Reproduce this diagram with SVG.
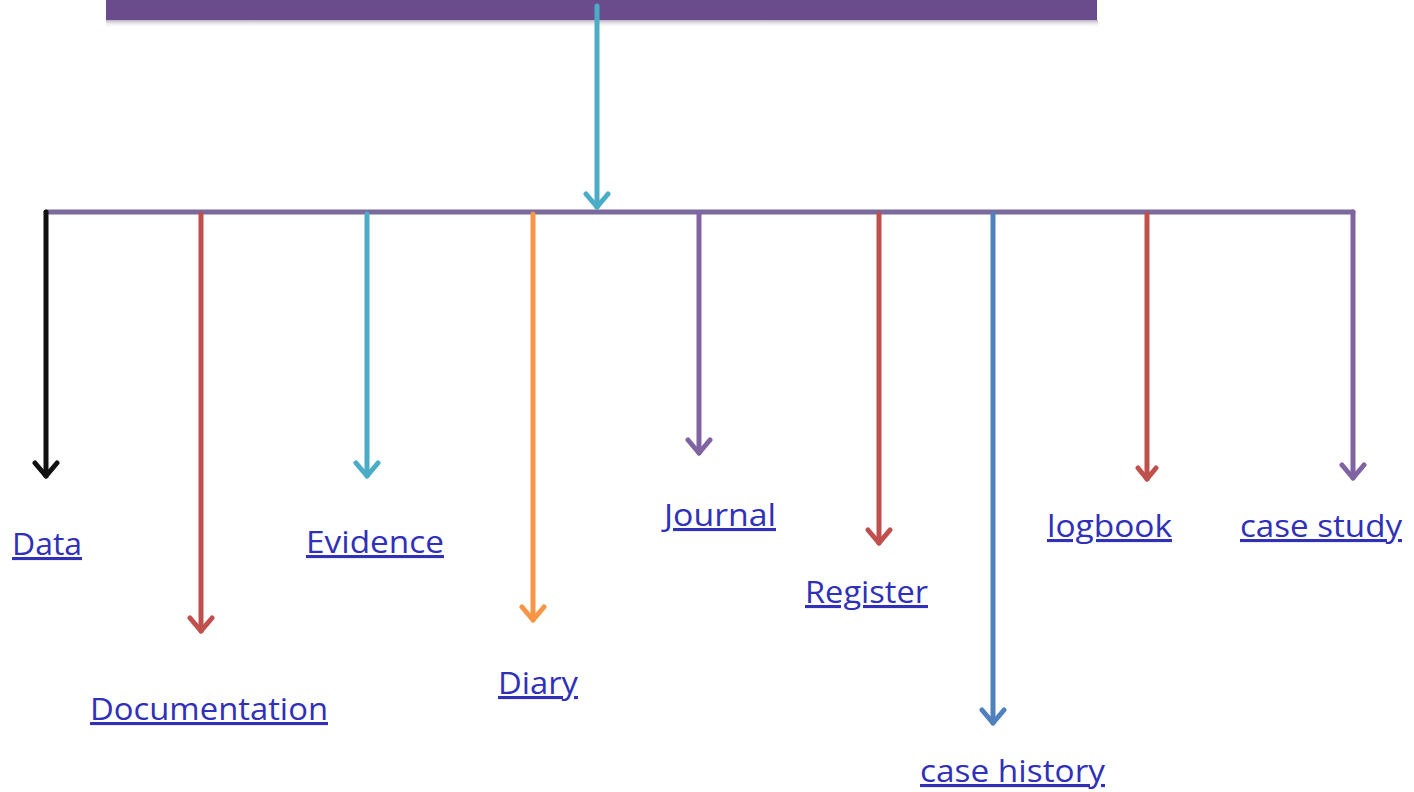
<svg xmlns="http://www.w3.org/2000/svg" width="1414" height="792" viewBox="0 0 1414 792">
<style>
.c{fill:none;stroke-width:5;stroke-linecap:round}
.lbl{font-family:"Open Sans","Liberation Sans",sans-serif;font-size:31px;fill:#3030b8;text-decoration:underline}
.ah{fill:none;stroke-width:5;stroke-linecap:round;stroke-linejoin:round}
</style>
<defs>
<linearGradient id="sh" x1="0" y1="0" x2="0" y2="1"><stop offset="0" stop-color="#9a90a8" stop-opacity="0.7"/><stop offset="1" stop-color="#ffffff" stop-opacity="0"/></linearGradient>
<marker id="mk" viewBox="-16 -15 19 30" markerWidth="19" markerHeight="30" refX="0" refY="0" orient="auto" markerUnits="userSpaceOnUse"><path class="ah" d="M-13,-11 L0,0 L-13,11" stroke="#111"/></marker>
<marker id="mr" viewBox="-16 -15 19 30" markerWidth="19" markerHeight="30" refX="0" refY="0" orient="auto" markerUnits="userSpaceOnUse"><path class="ah" d="M-13,-11 L0,0 L-13,11" stroke="#c0504d"/></marker>
<marker id="mt" viewBox="-16 -15 19 30" markerWidth="19" markerHeight="30" refX="0" refY="0" orient="auto" markerUnits="userSpaceOnUse"><path class="ah" d="M-13,-11 L0,0 L-13,11" stroke="#4bacc6"/></marker>
<marker id="mo" viewBox="-16 -15 19 30" markerWidth="19" markerHeight="30" refX="0" refY="0" orient="auto" markerUnits="userSpaceOnUse"><path class="ah" d="M-13,-11 L0,0 L-13,11" stroke="#f79646"/></marker>
<marker id="mp" viewBox="-16 -15 19 30" markerWidth="19" markerHeight="30" refX="0" refY="0" orient="auto" markerUnits="userSpaceOnUse"><path class="ah" d="M-13,-11 L0,0 L-13,11" stroke="#8064a2"/></marker>
<marker id="mb" viewBox="-16 -15 19 30" markerWidth="19" markerHeight="30" refX="0" refY="0" orient="auto" markerUnits="userSpaceOnUse"><path class="ah" d="M-13,-11 L0,0 L-13,11" stroke="#4f81bd"/></marker>
<marker id="mr2" viewBox="-16 -15 19 30" markerWidth="19" markerHeight="30" refX="0" refY="0" orient="auto" markerUnits="userSpaceOnUse"><path class="ah" d="M-11,-9 L0,0 L-11,9" stroke="#c0504d" stroke-width="4"/></marker>
</defs>
<rect width="1414" height="792" fill="#ffffff"/>
<g id="top-box">
<rect x="106" y="20" width="992" height="8" fill="url(#sh)"/>
<rect x="106" y="0" width="991" height="20" fill="#6a4c8c"/>
</g>
<g id="connectors">
<line class="c" x1="46" y1="212" x2="1353" y2="212" stroke="#7b6a9c"/>
<line class="c" x1="597" y1="6" x2="597" y2="207" stroke="#4bacc6" marker-end="url(#mt)"/>
<line class="c" x1="46" y1="212" x2="46" y2="476" stroke="#111" marker-end="url(#mk)"/>
<line class="c" x1="201" y1="214" x2="201" y2="631" stroke="#c0504d" marker-end="url(#mr)"/>
<line class="c" x1="367" y1="214" x2="367" y2="476" stroke="#4bacc6" marker-end="url(#mt)"/>
<line class="c" x1="533" y1="214" x2="533" y2="620" stroke="#f79646" marker-end="url(#mo)"/>
<line class="c" x1="699" y1="214" x2="699" y2="453" stroke="#8064a2" marker-end="url(#mp)"/>
<line class="c" x1="879" y1="214" x2="879" y2="543" stroke="#c0504d" marker-end="url(#mr)"/>
<line class="c" x1="993" y1="214" x2="993" y2="723" stroke="#4f81bd" marker-end="url(#mb)"/>
<line class="c" x1="1147" y1="214" x2="1147" y2="479" stroke="#c0504d" stroke-width="4" marker-end="url(#mr2)"/>
<line class="c" x1="1353" y1="212" x2="1353" y2="478" stroke="#8064a2" marker-end="url(#mp)"/>
</g>
<g id="n-data"><text class="lbl" x="12" y="555" textLength="70" lengthAdjust="spacingAndGlyphs">Data</text></g>
<g id="n-documentation"><text class="lbl" x="90" y="720" textLength="238" lengthAdjust="spacingAndGlyphs">Documentation</text></g>
<g id="n-evidence"><text class="lbl" x="306" y="553" textLength="138" lengthAdjust="spacingAndGlyphs">Evidence</text></g>
<g id="n-diary"><text class="lbl" x="498" y="694" textLength="80" lengthAdjust="spacingAndGlyphs">Diary</text></g>
<g id="n-journal"><text class="lbl" x="664" y="526" textLength="112" lengthAdjust="spacingAndGlyphs">Journal</text></g>
<g id="n-register"><text class="lbl" x="805" y="603" textLength="123" lengthAdjust="spacingAndGlyphs">Register</text></g>
<g id="n-case-history"><text class="lbl" x="920" y="782" textLength="185" lengthAdjust="spacingAndGlyphs">case history</text></g>
<g id="n-logbook"><text class="lbl" x="1047" y="537" textLength="125" lengthAdjust="spacingAndGlyphs">logbook</text></g>
<g id="n-case-study"><text class="lbl" x="1240" y="537" textLength="162" lengthAdjust="spacingAndGlyphs">case study</text></g>
</svg>
